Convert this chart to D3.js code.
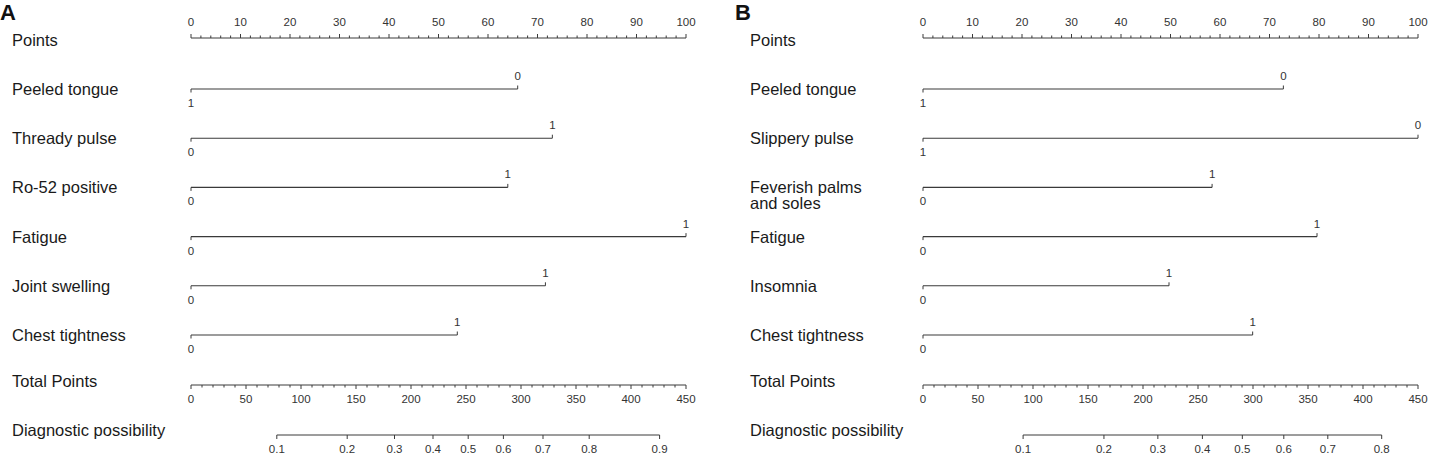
<!DOCTYPE html>
<html>
<head>
<meta charset="utf-8">
<script src="https://cdn.jsdelivr.net/npm/d3@7"></script>
<style>
  html, body { margin: 0; padding: 0; background: #fff; }
  svg { display: block; }
  .lab { font-family: "Liberation Sans", Arial, sans-serif; font-size: 16.5px; fill: #1a1a1a; }
  .tk { font-family: "Liberation Sans Narrow", "Arial Narrow", "Liberation Sans", Arial, sans-serif; font-size: 11.5px; fill: #333; }
  .panel { font-family: "Liberation Sans", Arial, sans-serif; font-size: 22px; font-weight: bold; fill: #111; }
</style>
</head>
<body>
<svg id="chart" width="1434" height="460"></svg>
<script>
// ---------- data ----------
const pointsTicks = [0, 10, 20, 30, 40, 50, 60, 70, 80, 90, 100];
const pointsMinorTicks = [0,2,4,6,8,10,12,14,16,18,20,22,24,26,28,30,32,34,36,38,40,42,44,46,48,50,52,54,56,58,60,62,64,66,68,70,72,74,76,78,80,82,84,86,88,90,92,94,96,98,100];
const totalTicks = [0, 50, 100, 150, 200, 250, 300, 350, 400, 450];
const totalMinorTicks = [0,10,20,30,40,50,60,70,80,90,100,110,120,130,140,150,160,170,180,190,200,210,220,230,240,250,260,270,280,290,300,310,320,330,340,350,360,370,380,390,400,410,420,430,440,450];

const panelAVars = ["Peeled tongue", "Thready pulse", "Ro-52 positive", "Fatigue", "Joint swelling", "Chest tightness"];
const panelAPoints = [66, 73, 64, 100, 71.6, 53.8];
const panelALeft = ["1", "0", "0", "0", "0", "0"];
const panelARight = ["0", "1", "1", "1", "1", "1"];
const panelAProb = [0.1, 0.2, 0.3, 0.4, 0.5, 0.6, 0.7, 0.8, 0.9];
const panelAProbAt = [78, 142, 185, 220, 252, 284, 320, 362, 426];

const panelBVars = ["Peeled tongue", "Slippery pulse", "Feverish palms\nand soles", "Fatigue", "Insomnia", "Chest tightness"];
const panelBPoints = [72.8, 100, 58.4, 79.6, 49.7, 66.6];
const panelBLeft = ["1", "1", "0", "0", "0", "0"];
const panelBRight = ["0", "0", "1", "1", "1", "1"];
const panelBProb = [0.1, 0.2, 0.3, 0.4, 0.5, 0.6, 0.7, 0.8];
const panelBProbAt = [91, 164.5, 213.5, 254, 290.3, 328, 368, 417];

// ---------- drawing ----------
const svg = d3.select("#chart");
const lineColor = "#3a3a3a";

function drawPanel(cfg) {
  const g = svg.append("g");
  const xP = d3.scaleLinear().domain([0, 100]).range([cfg.x0, cfg.x1]);
  const xT = d3.scaleLinear().domain([0, 450]).range([cfg.x0, cfg.x1]);
  const rowY = d3.scaleLinear().domain([0, 1]).range([89, 138.2]);
  const yPoints = 38, yTotal = 385, yProb = 435;

  g.append("text").attr("class", "panel").attr("x", cfg.px).attr("y", 20).text(cfg.letter);

  // Points axis (ticks up, labels above)
  g.append("text").attr("class", "lab").attr("x", cfg.lx).attr("y", yPoints + 8).text("Points");
  g.append("line").attr("x1", xP(0)).attr("x2", xP(100)).attr("y1", yPoints).attr("y2", yPoints)
    .attr("stroke", lineColor).attr("stroke-width", 1);
  g.selectAll(null).data(pointsMinorTicks).join("line")
    .attr("x1", d => xP(d)).attr("x2", d => xP(d))
    .attr("y1", yPoints).attr("y2", d => yPoints - (pointsTicks.includes(d) ? 4 : 2.5))
    .attr("stroke", lineColor).attr("stroke-width", 1);
  g.selectAll(null).data(pointsTicks).join("text").attr("class", "tk")
    .attr("x", d => xP(d)).attr("y", yPoints - 12).attr("text-anchor", "middle").text(d => d);

  // Variable rows
  cfg.vars.forEach((name, i) => {
    const y = rowY(i);
    const lines = name.split("\n");
    const t = g.append("text").attr("class", "lab").attr("x", cfg.lx).attr("y", y + 6);
    lines.forEach((ln, k) => {
      t.append("tspan").attr("x", cfg.lx).attr("dy", k === 0 ? 0 : 16).text(ln);
    });
    const xe = xP(cfg.pts[i]);
    g.append("line").attr("x1", xP(0)).attr("x2", xe).attr("y1", y).attr("y2", y)
      .attr("stroke", lineColor).attr("stroke-width", 1.1);
    g.append("line").attr("x1", xP(0)).attr("x2", xP(0)).attr("y1", y).attr("y2", y + 3.5)
      .attr("stroke", lineColor).attr("stroke-width", 1);
    g.append("line").attr("x1", xe).attr("x2", xe).attr("y1", y).attr("y2", y - 3.5)
      .attr("stroke", lineColor).attr("stroke-width", 1);
    g.append("text").attr("class", "tk").attr("x", xP(0)).attr("y", y + 18)
      .attr("text-anchor", "middle").text(cfg.left[i]);
    g.append("text").attr("class", "tk").attr("x", xe).attr("y", y - 9)
      .attr("text-anchor", "middle").text(cfg.right[i]);
  });

  // Total Points axis (ticks down, labels below)
  g.append("text").attr("class", "lab").attr("x", cfg.lx).attr("y", yTotal + 2).text("Total Points");
  g.append("line").attr("x1", xT(0)).attr("x2", xT(450)).attr("y1", yTotal).attr("y2", yTotal)
    .attr("stroke", lineColor).attr("stroke-width", 1);
  g.selectAll(null).data(totalMinorTicks).join("line")
    .attr("x1", d => xT(d)).attr("x2", d => xT(d))
    .attr("y1", yTotal).attr("y2", d => yTotal + (totalTicks.includes(d) ? 4 : 2.5))
    .attr("stroke", lineColor).attr("stroke-width", 1);
  g.selectAll(null).data(totalTicks).join("text").attr("class", "tk")
    .attr("x", d => xT(d)).attr("y", yTotal + 18).attr("text-anchor", "middle").text(d => d);

  // Diagnostic possibility axis
  g.append("text").attr("class", "lab").attr("x", cfg.lx).attr("y", yProb + 1).text("Diagnostic possibility");
  const pa = cfg.probAt;
  g.append("line").attr("x1", xT(pa[0])).attr("x2", xT(pa[pa.length - 1])).attr("y1", yProb).attr("y2", yProb)
    .attr("stroke", lineColor).attr("stroke-width", 1);
  g.selectAll(null).data(cfg.prob).join("line")
    .attr("x1", (d, i) => xT(pa[i])).attr("x2", (d, i) => xT(pa[i]))
    .attr("y1", yProb).attr("y2", yProb + 4)
    .attr("stroke", lineColor).attr("stroke-width", 1);
  g.selectAll(null).data(cfg.prob).join("text").attr("class", "tk")
    .attr("x", (d, i) => xT(pa[i])).attr("y", yProb + 18).attr("text-anchor", "middle").text(d => d);
}

drawPanel({ letter: "A", px: 0, lx: 12, x0: 191, x1: 686,
  vars: panelAVars, pts: panelAPoints, left: panelALeft, right: panelARight,
  prob: panelAProb, probAt: panelAProbAt });
drawPanel({ letter: "B", px: 735, lx: 750, x0: 923, x1: 1418,
  vars: panelBVars, pts: panelBPoints, left: panelBLeft, right: panelBRight,
  prob: panelBProb, probAt: panelBProbAt });
</script>
</body>
</html>
